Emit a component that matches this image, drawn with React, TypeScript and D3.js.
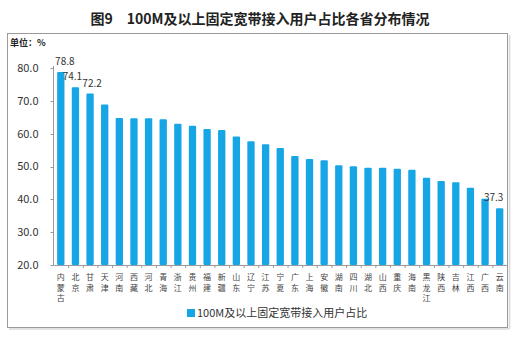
import React from "react";
import * as d3 from "d3";

const provinces = ["内蒙古","北京","甘肃","天津","河南","西藏","河北","青海","浙江","贵州","福建","新疆","山东","辽宁","江苏","宁夏","广东","上海","安徽","湖南","四川","湖北","山西","重庆","海南","黑龙江","陕西","吉林","江西","广西","云南"];
const values = [78.8,74.1,72.2,68.9,64.8,64.7,64.7,64.4,63.0,62.4,61.4,61.1,59.1,57.7,56.8,55.6,53.2,52.3,51.9,50.4,50.1,49.6,49.6,49.3,49.0,46.6,45.6,45.2,43.5,40.2,37.3];
const yTicks = [20,30,40,50,60,70,80];
const labelled = ["内蒙古","北京","甘肃","云南"];
const title = "图9　100M及以上固定宽带接入用户占比各省分布情况";
const unit = "单位：%";
const legendLabel = "100M及以上固定宽带接入用户占比";

const W = 520, H = 338;
const plot = { left: 53.5, right: 507, top: 68, bottom: 265 };
const BLUE = "#16a6e6";
const FONT = "'Noto Sans CJK SC', 'Noto Sans', sans-serif";

export default function App() {
  const x = d3.scaleBand<string>().domain(provinces).range([plot.left, plot.right]).paddingInner(0.5).paddingOuter(0.25);
  const xb = d3.scaleBand<string>().domain(provinces).range([plot.left, plot.right]).padding(0);
  const y = d3.scaleLinear().domain([20, 80]).range([plot.bottom, plot.top]);
  return (
    <svg width={W} height={H} style={{ position: "absolute", left: 0, top: 0, background: "#fff" }} fontFamily={FONT}>
      <rect x={0} y={0} width={W} height={H} fill="#fff" />
      <text x={260} y={24} textAnchor="middle" fontSize={14} fontWeight="bold" fill="#222">{title}</text>
      <rect x={7.5} y={33.5} width={500} height={294} fill="#fff" stroke="#9a9a9a" strokeWidth={1} />
      <line x1={9} y1={329} x2={509} y2={329} stroke="#d8d8d8" strokeWidth={1.5} />
      <line x1={509.5} y1={35} x2={509.5} y2={329} stroke="#d8d8d8" strokeWidth={1.5} />
      <text x={10} y={46} fontSize={9} fontWeight="bold" fill="#222">{unit}</text>
      {/* y axis */}
      <line x1={plot.left} y1={plot.top - 2} x2={plot.left} y2={plot.bottom} stroke="#9a9a9a" />
      {yTicks.map(t => (
        <g key={t}>
          <line x1={plot.left - 3} x2={plot.left} y1={Math.round(y(t)) + 0.5} y2={Math.round(y(t)) + 0.5} stroke="#9a9a9a" />
          <text x={plot.left - 15} y={y(t)} dy="0.35em" textAnchor="end" fontSize={11} fill="#333">{t.toFixed(1)}</text>
        </g>
      ))}
      {/* bars */}
      {provinces.map((p, i) => (
        <rect key={p} x={x(p)!} y={y(values[i])} width={x.bandwidth()} height={plot.bottom - y(values[i])} rx={1} fill={BLUE} />
      ))}
      {/* x axis */}
      <line x1={plot.left} y1={plot.bottom + 0.5} x2={plot.right} y2={plot.bottom + 0.5} stroke="#9a9a9a" />
      {provinces.map(p => (
        <line key={"t" + p} x1={xb(p)! + xb.bandwidth() + 0.5} x2={xb(p)! + xb.bandwidth() + 0.5} y1={plot.bottom} y2={plot.bottom + 3} stroke="#9a9a9a" />
      ))}
      {provinces.map(p => (
        <text key={"l" + p} x={x(p)! + x.bandwidth() / 2} y={280} textAnchor="middle" fontSize={8} fill="#444">
          {p.split("").map((c, k) => (
            <tspan key={k} x={x(p)! + x.bandwidth() / 2} dy={k === 0 ? 0 : 10.5}>{c}</tspan>
          ))}
        </text>
      ))}
      {/* data labels */}
      {provinces.map((p, i) => labelled.includes(p) ? (
        <text key={"v" + p} x={x(p)! + x.bandwidth() / 2 + (i === 0 ? 4 : i === 30 ? -6 : i === 1 ? -3 : 2)} y={y(values[i]) - 7} textAnchor="middle" fontSize={10} fill="#333">{values[i].toFixed(1)}</text>
      ) : null)}
      {/* legend */}
      <rect x={187} y={309} width={8} height={8} fill={BLUE} />
      <text x={197} y={313} dy="0.35em" fontSize={11} fill="#333">{legendLabel}</text>
    </svg>
  );
}
